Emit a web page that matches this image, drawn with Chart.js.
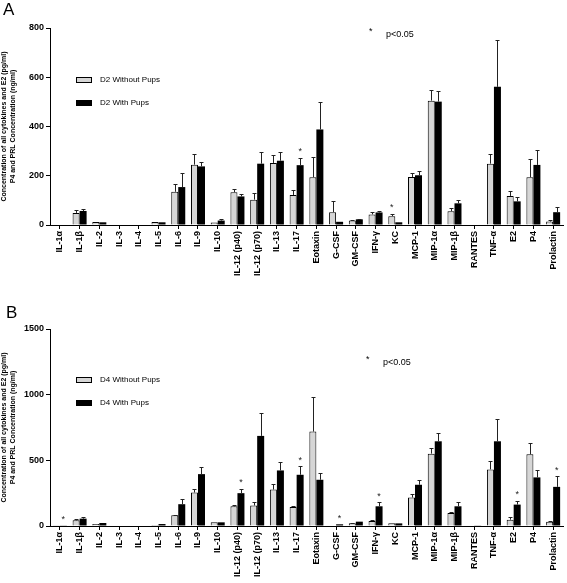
<!DOCTYPE html>
<html lang="en">
<head>
    <meta charset="UTF-8">
    <title>Cytokines D2 / D4</title>
    <script src="https://cdn.jsdelivr.net/npm/chart.js"></script>
    <style>
        body { margin: 0; background: #fff; }
        .panel { position: absolute; left: 0; width: 567px; }
        #panel-a { top: 0; height: 290px; }
        #panel-b { top: 290px; height: 293px; }
    </style>
</head>
<body>
    <div class="panel" id="panel-a"><canvas id="chart-a"></canvas></div>
    <div class="panel" id="panel-b"><canvas id="chart-b"></canvas></div>

    <script>
        const categories = ['IL-1α', 'IL-1β', 'IL-2', 'IL-3', 'IL-4', 'IL-5', 'IL-6', 'IL-9', 'IL-10',
            'IL-12 (p40)', 'IL-12 (p70)', 'IL-13', 'IL-17', 'Eotaxin', 'G-CSF', 'GM-CSF', 'IFN-γ', 'KC',
            'MCP-1', 'MIP-1α', 'MIP-1β', 'RANTES', 'TNF-α', 'E2', 'P4', 'Prolactin'];

        // panel A - day 2
        const d2Without = [0, 49, 12, 0, 0, 12, 135, 245, 10, 133, 103, 252, 122, 194, 52, 18, 43, 36, 195, 505, 56, 0, 249, 118, 194, 14];
        const d2WithoutSem = [0, 11, 0, 0, 0, 0, 32, 42, 0, 13, 28, 34, 21, 82, 46, 4, 9, 9, 17, 42, 13, 0, 41, 20, 72, 6];
        const d2With = [0, 57, 11, 0, 0, 11, 154, 238, 18, 116, 249, 261, 243, 388, 13, 23, 51, 11, 202, 501, 88, 0, 561, 96, 244, 52];
        const d2WithSem = [0, 7, 0, 0, 0, 0, 56, 19, 5, 9, 48, 36, 30, 113, 0, 2, 5, 0, 19, 42, 13, 0, 192, 16, 60, 21];
        const d2SigCats = ['IL-17', 'KC'];
        const d2SigSeries = [1, 0];
        const yTicksA = [0, 200, 400, 600, 800];

        // panel B - day 4
        const d4Without = [2, 43, 15, 0, 0, 8, 82, 255, 28, 150, 156, 278, 145, 719, 3, 20, 38, 20, 217, 551, 99, 0, 431, 48, 546, 33];
        const d4WithoutSem = [0, 13, 0, 0, 0, 0, 5, 26, 0, 8, 25, 38, 8, 263, 0, 3, 5, 0, 30, 41, 8, 0, 64, 21, 89, 5];
        const d4With = [5, 56, 23, 0, 0, 15, 166, 395, 28, 250, 686, 423, 390, 352, 13, 33, 150, 20, 314, 645, 150, 5, 645, 163, 370, 298];
        const d4WithSem = [0, 15, 0, 0, 0, 0, 38, 51, 0, 33, 171, 64, 66, 51, 0, 0, 31, 0, 40, 66, 36, 0, 171, 28, 58, 79];
        const d4SigCats = ['IL-1α', 'IL-12 (p40)', 'IL-17', 'G-CSF', 'IFN-γ', 'E2', 'Prolactin'];
        const d4SigSeries = [1, 1, 1, 1, 1, 1, 1];
        const yTicksB = [0, 500, 1000, 1500];

        const FONT = "'Liberation Sans', Arial, sans-serif";
        const GRAY = '#d6d6d6';

        // error bars + significance stars + legend + panel letter
        const extrasPlugin = {
            id: 'extras',
            afterDatasetsDraw(chart, args, opts) {
                const ctx = chart.ctx;
                const y = chart.scales.y;
                ctx.save();
                ctx.strokeStyle = '#222';
                ctx.lineWidth = 1;
                chart.data.datasets.forEach((ds, di) => {
                    const meta = chart.getDatasetMeta(di);
                    meta.data.forEach((bar, i) => {
                        const sem = ds.sem[i];
                        if (!sem) return;
                        const top = Math.round(y.getPixelForValue(ds.data[i] + sem)) + 0.5;
                        const x = Math.round(bar.x) + 0.5;
                        ctx.beginPath();
                        ctx.moveTo(x, bar.y);
                        ctx.lineTo(x, top);
                        ctx.moveTo(x - 2, top);
                        ctx.lineTo(x + 2, top);
                        ctx.stroke();
                    });
                });

                ctx.fillStyle = '#222';
                ctx.font = '9px ' + FONT;
                ctx.textAlign = 'center';
                ctx.textBaseline = 'middle';
                opts.sigCats.forEach((cat, k) => {
                    const i = categories.indexOf(cat);
                    const di = opts.sigSeries[k];
                    const ds = chart.data.datasets[di];
                    const bar = chart.getDatasetMeta(di).data[i];
                    const top = y.getPixelForValue(ds.data[i] + ds.sem[i]);
                    ctx.fillText('*', bar.x, top - 6);
                });
                ctx.restore();
            },
            afterDraw(chart, args, opts) {
                const ctx = chart.ctx;
                const area = chart.chartArea;
                ctx.save();
                ctx.fillStyle = '#000';
                ctx.textBaseline = 'middle';
                ctx.textAlign = 'left';

                ctx.font = '17px ' + FONT;
                ctx.fillText(opts.letter, opts.letterX, opts.letterY);

                // legend
                const lx = area.left + 26;
                chart.data.datasets.forEach((ds, di) => {
                    const ly = area.top + opts.legendTop + di * 23;
                    ctx.fillStyle = ds.backgroundColor;
                    ctx.fillRect(lx, ly - 3, 16, 6);
                    ctx.strokeStyle = '#000';
                    ctx.lineWidth = 1;
                    ctx.strokeRect(lx + 0.5, ly - 2.5, 15, 5);
                    ctx.fillStyle = '#000';
                    ctx.font = '8px ' + FONT;
                    ctx.fillText(ds.label, lx + 24, ly);
                });

                // p-value note
                ctx.font = '9px ' + FONT;
                ctx.fillText('*', opts.noteX, opts.noteY - 1);
                ctx.fillText('p<0.05', opts.noteX + 17, opts.noteY + 2);
                ctx.restore();
            }
        };

        function makeChart(id, cfg) {
            const ctx = document.getElementById(id).getContext('2d');
            return new Chart(ctx, {
                type: 'bar',
                data: {
                    labels: categories,
                    datasets: [{
                        label: cfg.labels[0],
                        data: cfg.without,
                        sem: cfg.withoutSem,
                        backgroundColor: GRAY,
                        borderColor: '#000',
                        borderWidth: 1,
                        borderSkipped: 'bottom'
                    }, {
                        label: cfg.labels[1],
                        data: cfg.withPups,
                        sem: cfg.withSem,
                        backgroundColor: '#000',
                        borderWidth: 0
                    }]
                },
                options: {
                    responsive: true,
                    maintainAspectRatio: false,
                    animation: false,
                    categoryPercentage: 0.71,
                    barPercentage: 1.0,
                    layout: { padding: { top: cfg.top, right: 4, left: 0, bottom: 0 } },
                    plugins: {
                        legend: { display: false },
                        tooltip: { enabled: false },
                        extras: cfg.extras
                    },
                    scales: {
                        x: {
                            grid: { display: true, drawOnChartArea: false, offset: false, color: '#000', tickLength: 4, tickWidth: 1 },
                            border: { color: '#000', width: 1 },
                            ticks: {
                                autoSkip: false, minRotation: 90, maxRotation: 90, padding: 2,
                                color: '#000', font: { family: FONT, weight: 'bold', size: 9 }
                            },
                            afterFit(scale) { scale.height = cfg.xHeight; }
                        },
                        y: {
                            min: 0,
                            max: cfg.yTicks[cfg.yTicks.length - 1],
                            afterBuildTicks(scale) { scale.ticks = cfg.yTicks.map(v => ({ value: v })); },
                            grid: { drawOnChartArea: false, color: '#000', tickLength: 4 },
                            border: { color: '#000', width: 1 },
                            ticks: {
                                color: '#000', padding: 2, font: { family: FONT, weight: 'bold', size: 9 },
                                callback: v => String(v)
                            },
                            title: {
                                display: true,
                                text: ['Concentration of all cytokines and E2 (pg/ml)', 'P4 and PRL Concentration (ng/ml)'],
                                color: '#000',
                                font: { family: FONT, weight: 'bold', size: 7 },
                                padding: { top: 0, bottom: 0 }
                            },
                            afterFit(scale) { scale.width = 50; }
                        }
                    }
                },
                plugins: [extrasPlugin]
            });
        }

        makeChart('chart-a', {
            labels: ['D2 Without Pups', 'D2 With Pups'],
            without: d2Without, withoutSem: d2WithoutSem,
            withPups: d2With, withSem: d2WithSem,
            yTicks: yTicksA, top: 28, xHeight: 65,
            extras: {
                letter: 'A', letterX: 3, letterY: 10,
                legendTop: 52, sigCats: d2SigCats, sigSeries: d2SigSeries,
                noteX: 369, noteY: 33
            }
        });

        makeChart('chart-b', {
            labels: ['D4 Without Pups', 'D4 With Pups'],
            without: d4Without, withoutSem: d4WithoutSem,
            withPups: d4With, withSem: d4WithSem,
            yTicks: yTicksB, top: 39, xHeight: 57,
            extras: {
                letter: 'B', letterX: 6, letterY: 23,
                legendTop: 51, sigCats: d4SigCats, sigSeries: d4SigSeries,
                noteX: 366, noteY: 71
            }
        });
    </script>
</body>
</html>
